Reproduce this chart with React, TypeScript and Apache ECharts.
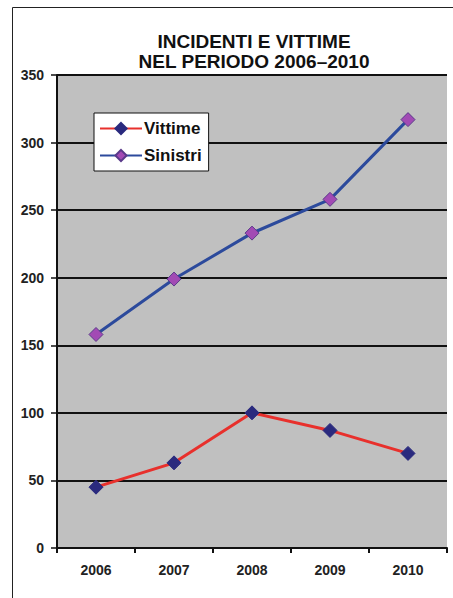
import React, { useEffect, useRef } from "react";
import * as echarts from "echarts";

const years = ["2006", "2007", "2008", "2009", "2010"];
const vittime = [45, 63, 100, 87, 70];
const sinistri = [158, 199, 233, 258, 317];
const titleText = "INCIDENTI E VITTIME\nNEL PERIODO 2006–2010";

export default function App() {
  const ref = useRef<HTMLDivElement>(null);
  useEffect(() => {
    const chart = echarts.init(ref.current!, null, { renderer: "svg" });
    const font = "'Liberation Sans', Arial, sans-serif";
    chart.setOption({
      animation: false,
      backgroundColor: "#ffffff",
      title: {
        text: titleText,
        left: 249,
        textAlign: "center",
        top: 26,
        textStyle: { fontFamily: font, fontWeight: "bold", fontSize: 19, lineHeight: 20, color: "#111" },
      },
      graphic: [
        {
          type: "rect",
          shape: { x: 12.5, y: 7.5, width: 460, height: 620 },
          style: { fill: "none", stroke: "#222", lineWidth: 1 },
          silent: true,
        },
      ],
      legend: {
        orient: "vertical",
        left: 94,
        top: 113,
        backgroundColor: "#ffffff",
        borderColor: "#111",
        borderWidth: 1,
        borderRadius: 0,
        padding: [7, 7, 7, 5],
        itemGap: 10,
        itemWidth: 42,
        itemHeight: 14,
        textStyle: { fontFamily: font, fontWeight: "bold", fontSize: 17, color: "#111", padding: [0, 0, 0, -3] },
        data: ["Vittime", "Sinistri"],
      },
      grid: { left: 57, right: 6, top: 75, bottom: 50, show: true, backgroundColor: "#c0c0c0", borderWidth: 0 },
      xAxis: {
        type: "category",
        data: years,
        boundaryGap: true,
        axisLine: { lineStyle: { color: "#111", width: 2 } },
        axisTick: { show: true, length: 5, lineStyle: { color: "#111", width: 2 } },
        axisLabel: { fontFamily: font, fontWeight: "bold", fontSize: 14, color: "#222", margin: 15 },
      },
      yAxis: {
        type: "value",
        min: 0,
        max: 350,
        interval: 50,
        axisLine: { show: true, lineStyle: { color: "#111", width: 2 } },
        axisTick: { show: true, length: 6, lineStyle: { color: "#111", width: 1.5 } },
        axisLabel: { fontFamily: font, fontWeight: "bold", fontSize: 14, color: "#222", margin: 13 },
        splitLine: { show: true, lineStyle: { color: "#111", width: 1.8 } },
      },
      series: [
        {
          name: "Vittime",
          type: "line",
          data: vittime,
          symbol: "diamond",
          symbolSize: 14,
          lineStyle: { color: "#e8302c", width: 3 },
          itemStyle: { color: "#2a2a7e", borderColor: "#2a2a7e", borderWidth: 1 },
          z: 3,
        },
        {
          name: "Sinistri",
          type: "line",
          data: sinistri,
          symbol: "diamond",
          symbolSize: 14,
          lineStyle: { color: "#2c4a9c", width: 3 },
          itemStyle: { color: "#a24ab4", borderColor: "#5a3a8a", borderWidth: 1 },
          z: 3,
        },
      ],
    });
    return () => chart.dispose();
  }, []);
  return <div ref={ref} style={{ position: "fixed", left: 0, top: 0, width: 453, height: 598 }} />;
}
